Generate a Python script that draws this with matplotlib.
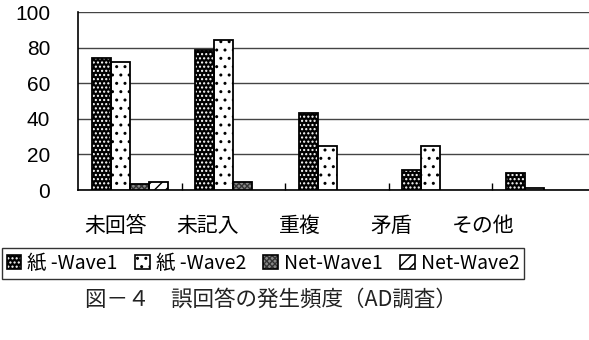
import numpy as np
import matplotlib.pyplot as plt
from matplotlib.patches import Patch
from matplotlib.legend_handler import HandlerTuple

plt.rcParams['font.family'] = ['Noto Sans CJK JP', 'DejaVu Sans']
plt.rcParams['hatch.linewidth'] = 1.0

# error categories and the share of respondents (%) per survey mode / wave
categories = ["未回答", "未記入", "重複", "矛盾", "その他"]
series_names = ["紙 -Wave1", "紙 -Wave2", "Net-Wave1", "Net-Wave2"]
paper_w1 = [74, 78.5, 43, 11.5, 9.5]
paper_w2 = [72, 84, 24.5, 24.5, 1.3]
net_w1 = [3.5, 4.5, 0, 0, 0]
net_w2 = [4.5, 0, 0, 0, 0]
yticks = [0, 20, 40, 60, 80, 100]

# fill, hatch pattern, hatch colour for each series
styles = [
    ("black", "....", "white"),
    ("white", "..", "black"),
    ("#888888", "xxxxxx", "#333333"),
    ("white", "///", "black"),
]

fig = plt.figure(figsize=(5.89, 3.40), dpi=100)
ax = fig.add_axes([78 / 589, 150 / 340, 517.5 / 589, 178 / 340])

x = np.arange(len(categories)) + 0.5
w = 0.184
values = [paper_w1, paper_w2, net_w1, net_w2]
for i, (vals, (fc, hatch, hc)) in enumerate(zip(values, styles)):
    pos = x + (i - 1.5) * w
    # pattern layer, then a plain outline on top
    ax.bar(pos, vals, w, color=fc, edgecolor=hc, hatch=hatch, linewidth=0, zorder=3)
    heights = np.array(vals)
    ax.bar(pos[heights > 0], heights[heights > 0], w, fill=False,
           edgecolor="black", linewidth=1.3, zorder=4)

ax.set_xlim(0, len(categories))
ax.set_ylim(0, 100)
ax.set_yticks(yticks)
ax.set_yticklabels([str(t) for t in yticks], family="Liberation Sans", fontsize=15)
ax.tick_params(axis="y", length=0, pad=20)
ax.set_xticks(np.arange(1, len(categories)))
ax.set_xticklabels([])
ax.tick_params(axis="x", direction="in", length=5, width=1)
ax.grid(axis="y", color="#444444", linewidth=1.0, zorder=0)
for side in ["top", "right"]:
    ax.spines[side].set_visible(False)
ax.spines["left"].set_linewidth(1.2)
ax.spines["bottom"].set_linewidth(1.2)

# category names sit below the axis, evenly spaced
for k, name in enumerate(categories):
    fig.text((115.5 + 92 * k) / 589, 1 - 226 / 340, name, ha="center", va="center",
             fontsize=15)

# legend keys: pattern patch with a black outline laid over it
handles = [(Patch(facecolor=fc, edgecolor=hc, hatch=hatch, linewidth=0),
            Patch(fill=False, edgecolor="black", linewidth=1.2)) for fc, hatch, hc in styles]
leg = fig.legend(handles, series_names, loc="center left", bbox_to_anchor=(2 / 589, 1 - 263.5 / 340),
                 ncol=4, fontsize=14, frameon=True, fancybox=False, edgecolor="black",
                 handler_map={tuple: HandlerTuple(ndivide=1, pad=0)},
                 handlelength=0.75, handleheight=0.75, handletextpad=0.3, columnspacing=0.9,
                 borderpad=0.25, borderaxespad=0)
leg.get_frame().set_linewidth(1.0)

fig.text(85 / 589, 1 - 300 / 340, "図－４　誤回答の発生頻度（AD調査）", ha="left", va="center",
         fontsize=15.5, color="#222222")

fig.savefig("out.png", dpi=100)
